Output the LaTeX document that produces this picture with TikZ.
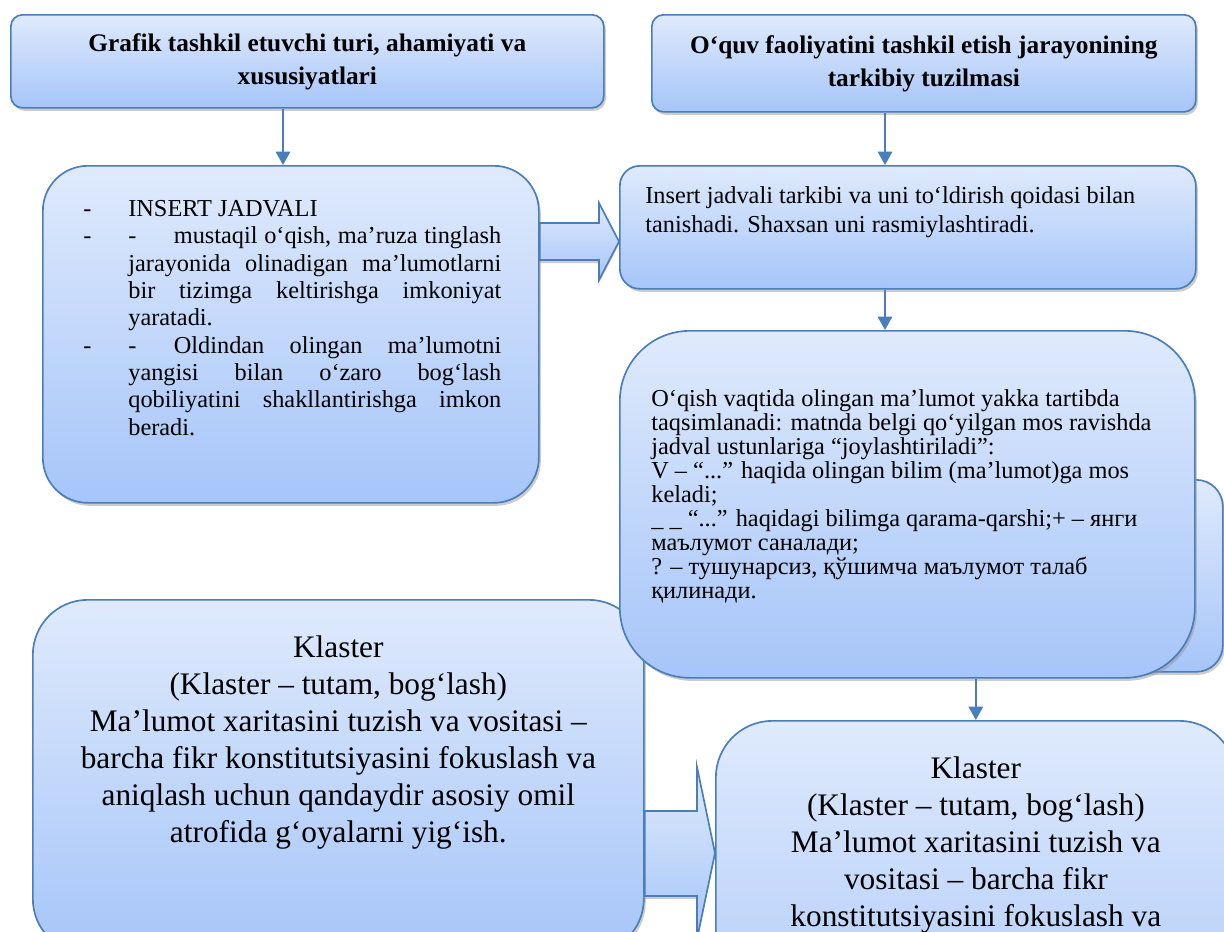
\documentclass[tikz,border=0pt]{standalone}
\usepackage{fontspec}
\setmainfont{Liberation Serif}
\usetikzlibrary{arrows.meta,positioning,shadows,calc}
\definecolor{bord}{RGB}{74,126,187}
\definecolor{paneltop}{RGB}{223,234,252}
\definecolor{panelbot}{RGB}{166,197,249}

\begin{document}
\begin{tikzpicture}[x=0.6pt, y=-0.6pt,
  panel/.style={draw=bord, line width=1pt, top color=paneltop, bottom color=panelbot,
    rounded corners=#1, anchor=north west, inner sep=0pt,
    drop shadow={shadow xshift=1.2pt, shadow yshift=-1.8pt, fill=black!40}},
  panel/.default=7pt,
  head/.style={font=\fontsize{15.2pt}{19.8pt}\selectfont\bfseries, align=center},
  txt/.style={inner sep=0pt, align=left, font=\fontsize{14.6pt}{16.4pt}\selectfont},
  big/.style={inner sep=0pt, align=center, font=\fontsize{18.8pt}{22.2pt}\selectfont},
  arr/.style={draw=bord, line width=1.2pt, -{Triangle[length=8pt,width=8.6pt]}},
  blockarr/.style={draw=bord, line width=1pt, top color=paneltop, bottom color=panelbot,
    drop shadow={shadow xshift=0pt, shadow yshift=-1.8pt, fill=black!40}}]
\useasboundingbox (0,0) rectangle (1224,931);
\clip (0,0) rectangle (1224,931);

% titles
\node[panel, head, minimum width=355.8pt, minimum height=55.8pt] (topL) at (10,14)
  {Grafik tashkil etuvchi turi, ahamiyati va\\ xususiyatlari};
\node[panel, head, minimum width=326.4pt, minimum height=58.2pt] (topR) at (651,14)
  {O‘quv faoliyatini tashkil etish jarayonining\\ tarkibiy tuzilmasi};

% middle row
\node[panel=27pt, minimum width=297.6pt, minimum height=202.2pt] (ins) at (42,165) {};
\node[panel=12pt, minimum width=345.6pt, minimum height=73.8pt] (tan) at (619,165) {};

% lower boxes
\node[panel=33pt, minimum width=366.6pt, minimum height=212.4pt] (klsL) at (32,599) {};
\node[panel=16pt, minimum width=133.2pt, minimum height=115.2pt] (back) at (1000,479) {};
\node[panel=42pt, minimum width=345pt, minimum height=208.2pt] (qish) at (619,330) {};
\node[panel=34pt, minimum width=312pt, minimum height=228pt] (klsR) at (715,720) {};

% texts
\node[txt, anchor=north west] (insT) at ([xshift=24.6pt, yshift=-21pt]ins.north west) {%
\makebox[27pt][l]{-}INSERT JADVALI\\
\makebox[27pt][l]{-}\makebox[27.3pt][l]{-}\makebox[196.5pt][s]{mustaqil o‘qish, ma’ruza tinglash}\\
\hspace*{27pt}\makebox[223.8pt][s]{jarayonida olinadigan ma’lumotlarni}\\
\hspace*{27pt}\makebox[223.8pt][s]{bir tizimga keltirishga imkoniyat}\\
\hspace*{27pt}yaratadi.\\
\makebox[27pt][l]{-}\makebox[27.3pt][l]{-}\makebox[196.5pt][s]{Oldindan olingan ma’lumotni}\\
\hspace*{27pt}\makebox[223.8pt][s]{yangisi bilan o‘zaro bog‘lash}\\
\hspace*{27pt}\makebox[223.8pt][s]{qobiliyatini shakllantirishga imkon}\\
\hspace*{27pt}beradi.};
\node[txt, anchor=north west, font=\fontsize{14.6pt}{17.4pt}\selectfont] (tanT)
  at ([xshift=15.6pt, yshift=-12.6pt]tan.north west)
  {Insert jadvali tarkibi va uni to‘ldirish qoidasi bilan\\
   tanishadi. Shaxsan uni rasmiylashtiradi.};
\node[txt, anchor=north west, font=\fontsize{14.6pt}{14.4pt}\selectfont] (qishT)
  at ([xshift=19.2pt, yshift=-35.6pt]qish.north west)
  {O‘qish vaqtida olingan ma’lumot yakka tartibda\\
   taqsimlanadi: matnda belgi qo‘yilgan mos ravishda\\
   jadval ustunlariga “joylashtiriladi”:\\
   V – “...” haqida olingan bilim (ma’lumot)ga mos\\
   keladi;\\
   \_\ \_ “...” haqidagi bilimga qarama-qarshi;+ – янги\\
   маълумот саналади;\\
   ? – тушунарсиз, қўшимча маълумот талаб\\
   қилинади.};
\node[big, anchor=north] (klsLT) at ([yshift=-21.6pt]klsL.north)
  {Klaster\\
   (Klaster – tutam, bog‘lash)\\
   Ma’lumot xaritasini tuzish va vositasi –\\
   barcha fikr konstitutsiyasini fokuslash va\\
   aniqlash uchun qandaydir asosiy omil\\
   atrofida g‘oyalarni yig‘ish.};
\node[big, anchor=north] (klsRT) at ([yshift=-21.6pt]klsR.north)
  {Klaster\\
   (Klaster – tutam, bog‘lash)\\
   Ma’lumot xaritasini tuzish va\\
   vositasi – barcha fikr\\
   konstitutsiyasini fokuslash va};

% arrows
\coordinate (colL) at (283,0);
\coordinate (colR) at (885,0);
\draw[arr] (topL.south -| colL) -- (ins.north -| colL);
\draw[arr] (topR.south -| colR) -- (tan.north -| colR);
\draw[arr] (tan.south -| colR) -- (qish.north -| colR);
\draw[arr] (qish.south -| klsR.north) -- (klsR.north);

% block arrows
\path[blockarr] (ins.east |- 0,223) -- (599,223) -- (599,203) -- (tan.west |- 0,241.5)
  -- (599,280) -- (599,260) -- (ins.east |- 0,260) -- cycle;
\path[blockarr] (klsL.east |- 0,811) -- (697,811) -- (697,767) -- (klsR.west |- 0,853)
  -- (697,939) -- (697,896) -- (klsL.east |- 0,896) -- cycle;
\end{tikzpicture}
\end{document}
